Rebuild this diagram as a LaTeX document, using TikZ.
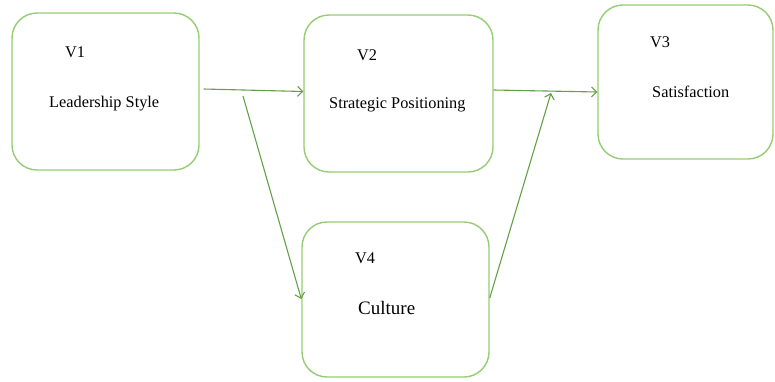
\documentclass[tikz,border=0pt]{standalone}
\usepackage{fontspec}
\setmainfont{Liberation Serif}
\usetikzlibrary{arrows.meta}
\definecolor{boxgreen}{RGB}{150,204,116}
\definecolor{arrowgreen}{RGB}{100,160,72}
\tikzset{
  varbox/.style={draw=boxgreen, line width=1.4pt, rounded corners=25pt,
    fill=white, inner sep=0pt},
  lbl/.style={anchor=base west, inner sep=0pt, text=black,
    font=\fontsize{16.3}{19}\selectfont},
  biglbl/.style={lbl, font=\fontsize{19}{22}\selectfont},
  link/.style={draw=arrowgreen, line width=1.1pt,
    -{Straight Barb[length=5pt,width=10pt,line width=1.1pt]}}
}
\begin{document}
\begin{tikzpicture}[x=1pt,y=-1pt]
\useasboundingbox (0,0) rectangle (775,381);
% variable boxes
\node[varbox, minimum width=187pt, minimum height=157pt] (b1) at (105.5,91.5) {};
\node[varbox, minimum width=189pt, minimum height=157pt] (b2) at (398.5,93.5) {};
\node[varbox, minimum width=175pt, minimum height=154pt] (b3) at (685.5,82) {};
\node[varbox, minimum width=187pt, minimum height=155pt] (b4) at (395.5,299.5) {};
% labels
\node[lbl] (v1) at (65,57) {V1};
\node[lbl] (t1) at (49,107) {Leadership Style};
\node[lbl] (v2) at (357,60) {V2};
\node[lbl] (t2) at (329,108) {Strategic Positioning};
\node[lbl] (v3) at (650,47) {V3};
\node[lbl] (t3) at (652,97) {Satisfaction};
\node[lbl] (v4) at (355,263) {V4};
\node[biglbl] (t4) at (358,314) {Culture};
% connector end points (shifts in pt, positive is upward)
\coordinate (s1) at ([xshift=4pt,yshift=2.5pt]b1.east);
\coordinate (e1) at ([yshift=2pt]b2.west);
\coordinate (s2) at (243,96);
\coordinate (e2) at ([yshift=0.5pt]b4.west);
\coordinate (s3) at ([yshift=3.5pt]b2.east);
\coordinate (e3) at ([yshift=-10pt]b3.west);
\coordinate (s4) at ([yshift=1.5pt]b4.east);
\coordinate (e4) at (551,93);
% connectors
\draw[link] (s1) -- (e1);
\draw[link] (s2) -- (e2);
\draw[link] (s3) -- (e3);
\draw[link] (s4) -- (e4);
\end{tikzpicture}
\end{document}
